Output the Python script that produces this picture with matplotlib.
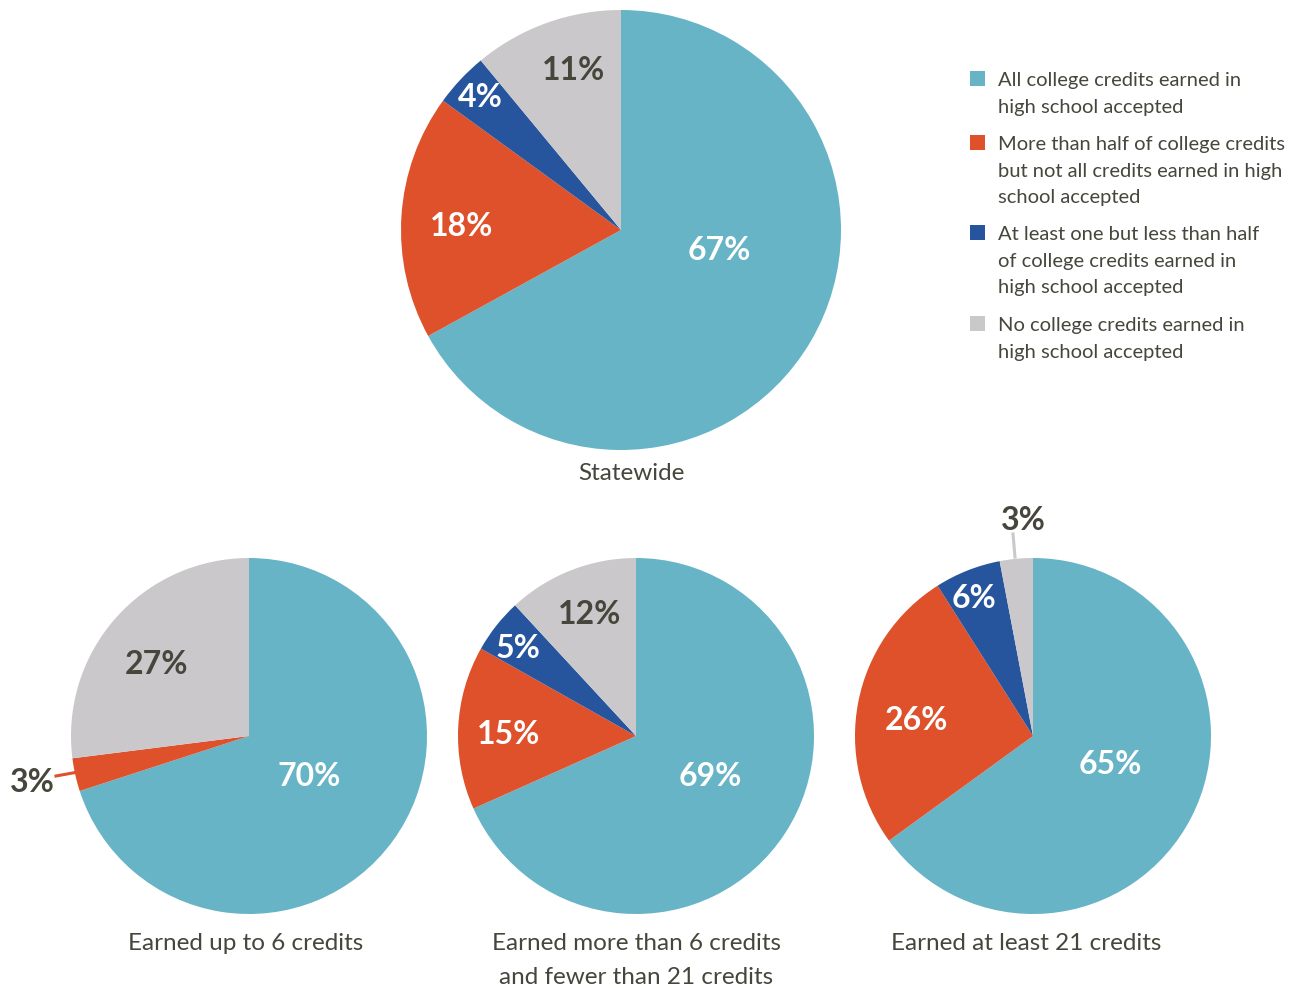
import matplotlib.pyplot as plt
from matplotlib.patches import Rectangle

plt.rcParams['font.family'] = ['Lato', 'DejaVu Sans']

W, H = 1297, 988

categories = [
    'All college credits earned in\nhigh school accepted',
    'More than half of college credits\nbut not all credits earned in high\nschool accepted',
    'At least one but less than half\nof college credits earned in\nhigh school accepted',
    'No college credits earned in\nhigh school accepted',
]
colors = ['#67b4c7', '#de512b', '#26559e', '#cac8ca']
text_dark = '#46463c'

titles = [['Statewide'], ['Earned up to 6 credits'],
          ['Earned more than 6 credits', 'and fewer than 21 credits'],
          ['Earned at least 21 credits']]
shares = [
    [67, 18, 4, 11],
    [70, 3, 0, 27],
    [69, 15, 5, 12],
    [65, 26, 6, 3],
]

# pie centre (px), radius (px), title anchor
pies = [
    ((621, 230), 220, (631, 473)),
    ((249, 736), 178, (246, 943)),
    ((636, 736), 178, (636, 943)),
    ((1033, 736), 178, (1026, 943)),
]
# percent label positions, one per slice (None = no label)
label_pos = [
    [(719, 250), (462, 226), (480, 98), (574, 71)],
    [(309, 776), (32, 783), None, (157, 665)],
    [(710, 776), (509, 735), (518, 648), (590, 614)],
    [(1110, 764), (916, 721), (974, 598), (1023, 520)],
]
# leader lines for the thin slices
leaders = [
    ((56, 776), (78, 772), colors[1]),
    ((1013, 534), (1015, 557), '#cac8ca'),
]

fig = plt.figure(figsize=(W / 100, H / 100), dpi=100)
ax = fig.add_axes([0, 0, 1, 1])
ax.set_xlim(0, W)
ax.set_ylim(0, H)
ax.set_aspect('equal')
ax.axis('off')

def fy(y):
    return H - y

for (c, r, tpos), vals, lpos, title in zip(pies, shares, label_pos, titles):
    ax.pie(vals, colors=colors, startangle=90, counterclock=False,
           center=(c[0], fy(c[1])), radius=r, frame=True,
           wedgeprops=dict(linewidth=0))
    for i, (v, p) in enumerate(zip(vals, lpos)):
        if p is None:
            continue
        inside = v >= 4
        col = 'white' if (inside and i < 3) else text_dark
        ax.text(p[0], fy(p[1]), f'{v}%', ha='center', va='center',
                fontsize=23, fontweight='bold', color=col)
    for k, line in enumerate(title):
        ax.text(tpos[0], fy(tpos[1] + 34 * k), line, ha='center', va='center',
                fontsize=17.5, color=text_dark)

for p0, p1, col in leaders:
    ax.plot([p0[0], p1[0]], [fy(p0[1]), fy(p1[1])], color=col, lw=2.2)

# legend
ly = [79, 143, 233, 324]
for label, col, y in zip(categories, colors, ly):
    ax.add_patch(Rectangle((970, fy(y) - 7), 15, 15, color=col, lw=0))
    for k, line in enumerate(label.split('\n')):
        ax.text(998, fy(y + 2 + 26.5 * k), line, ha='left', va='center',
                fontsize=14.5, color=text_dark)

ax.set_xlim(0, W)
ax.set_ylim(0, H)
fig.savefig('out.png', dpi=100)
